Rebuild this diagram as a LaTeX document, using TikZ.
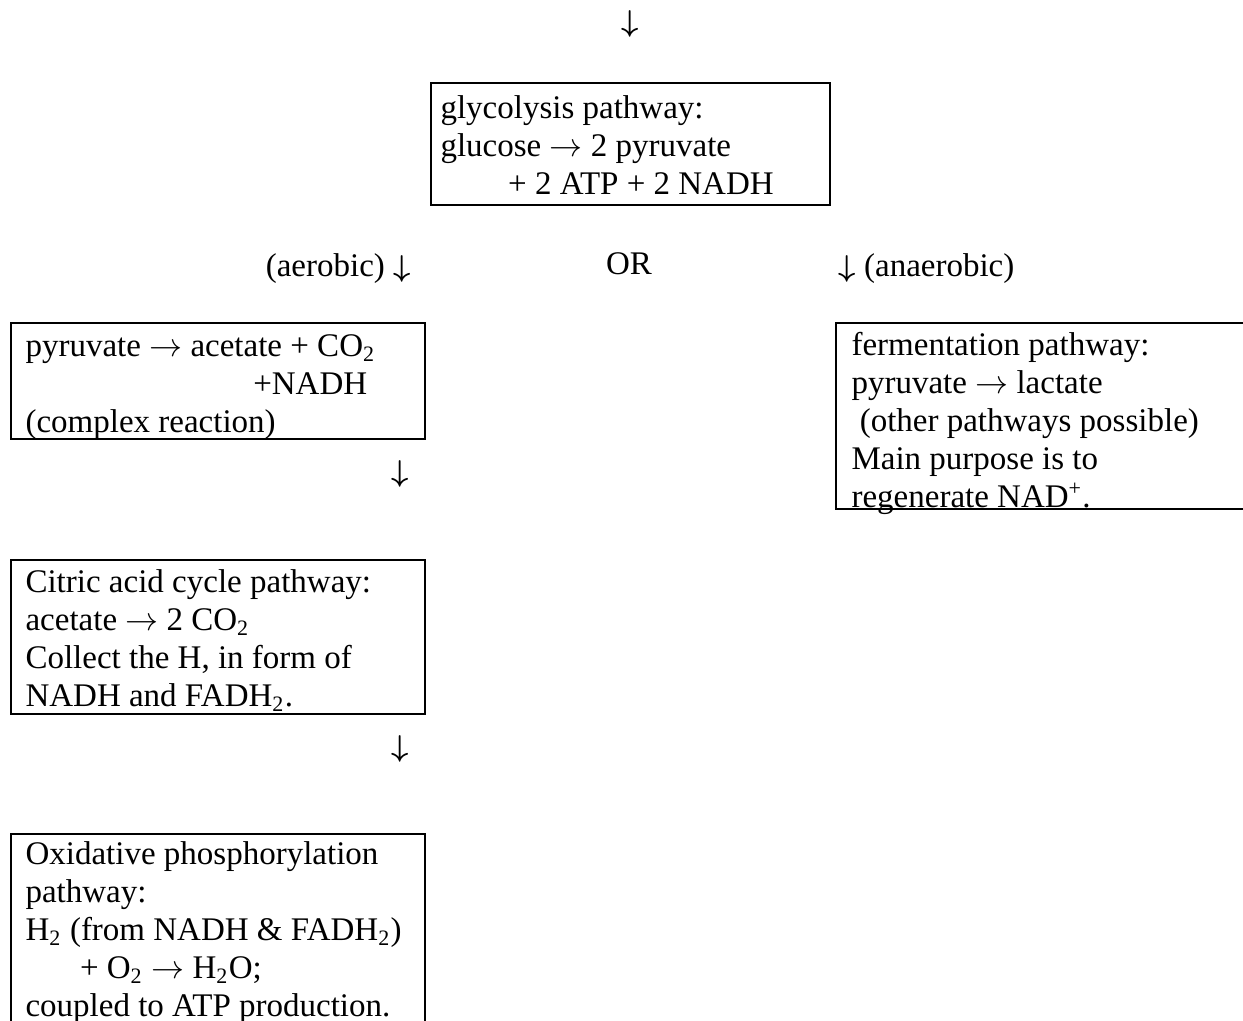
\documentclass[tikz,border=0pt]{standalone}
\usepackage{fontspec}
\setmainfont{Liberation Serif}
\newcommand{\rarr}{\ensuremath{\rightarrow}}
\newcommand{\darr}{{\fontsize{11}{12}\selectfont\boldmath\ensuremath{\downarrow}}}
\begin{document}
\begin{tikzpicture}[x=0.3636pt,y=-0.3636pt,
  boxline/.style={draw=black,line width=0.75pt},
  txt/.style={anchor=north west,inner sep=0pt,align=left,font=\fontsize{12}{13.8}\selectfont},
  lbl/.style={inner sep=0pt,font=\fontsize{12}{13.8}\selectfont}]
\useasboundingbox (0,0) rectangle (1243,1021);
\clip (0,0) rectangle (1243,1021);
% top arrow
\node[lbl,anchor=base] (topar) at (630,31) {\darr};
% glycolysis box
\node[boxline,anchor=north west,minimum width=399*0.3636pt,minimum height=122*0.3636pt,inner sep=0pt] (glyc) at (430,82) {};
\node[txt] (glyct) at (440,91.4) {\strut glycolysis pathway:\\\strut glucose \rarr{} 2 pyruvate\\\strut\hspace{2.05em}+ 2 ATP + 2 NADH};
% branch labels
\node[lbl,anchor=base east] (aer) at (411,276) {(aerobic) \darr};
\node[lbl,anchor=base] (orl) at (629,274) {OR};
\node[lbl,anchor=base west] (anaer) at (838,276) {\darr{} (anaerobic)};
% pyruvate box
\node[boxline,anchor=north west,minimum width=414*0.3636pt,minimum height=116*0.3636pt,inner sep=0pt] (pyr) at (10,322) {};
\node[txt] (pyrt) at (25,329.4) {\strut pyruvate \rarr{} acetate + CO\textsubscript{2}\\\strut\hspace{6.9em}+NADH\\\strut (complex reaction)};
% fermentation box
\node[boxline,anchor=north west,minimum width=450*0.3636pt,minimum height=186*0.3636pt,inner sep=0pt] (ferm) at (835,322) {};
\node[txt] (fermt) at (851,328.4) {\strut fermentation pathway:\\\strut pyruvate \rarr{} lactate\\\strut\ (other pathways possible)\\\strut Main purpose is to\\\strut regenerate NAD\textsuperscript{+}.};
% arrow between pyruvate and citric
\node[lbl,anchor=base] (ar1) at (400,481) {\darr};
% citric box
\node[boxline,anchor=north west,minimum width=414*0.3636pt,minimum height=154*0.3636pt,inner sep=0pt] (cit) at (10,559) {};
\node[txt] (citt) at (25,565.4) {\strut Citric acid cycle pathway:\\\strut acetate \rarr{} 2 CO\textsubscript{2}\\\strut Collect the H, in form of\\\strut NADH and FADH\textsubscript{2}.};
% arrow between citric and oxidative
\node[lbl,anchor=base] (ar2) at (400,756) {\darr};
% oxidative box
\node[boxline,anchor=north west,minimum width=414*0.3636pt,minimum height=230*0.3636pt,inner sep=0pt] (oxp) at (10,833) {};
\node[txt] (oxpt) at (25,837.4) {\strut Oxidative phosphorylation\\\strut pathway:\\\strut H\textsubscript{2} (from NADH \& FADH\textsubscript{2})\\\strut\hspace{1.65em}+ O\textsubscript{2} \rarr{} H\textsubscript{2}O;\\\strut coupled to ATP production.};
\end{tikzpicture}
\end{document}
